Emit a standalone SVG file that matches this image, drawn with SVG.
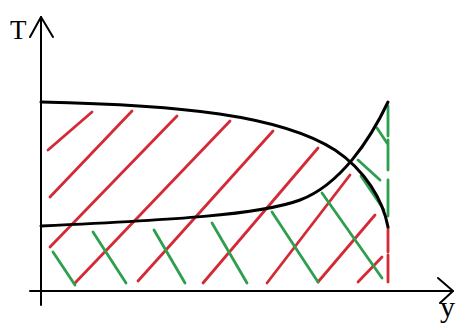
<svg xmlns="http://www.w3.org/2000/svg" width="463" height="325" viewBox="0 0 463 325">
<style>
.ax{stroke:#000;stroke-width:2;fill:none;stroke-linecap:round;stroke-linejoin:round}
.cv{stroke:#000;stroke-width:3;fill:none;stroke-linecap:round}
.r{stroke:#d42a35;stroke-width:2.8;fill:none;stroke-linecap:round}
.g{stroke:#2e9e4f;stroke-width:2.8;fill:none;stroke-linecap:round}
.lbl{font-family:"Liberation Serif","DejaVu Serif",serif;fill:#000}
</style>
<rect width="463" height="325" fill="#fff"/>
<g id="hatch-red">
<line class="r" x1="48" y1="150" x2="92" y2="112"/>
<line class="r" x1="50" y1="197" x2="132" y2="111"/>
<line class="r" x1="50" y1="247" x2="177" y2="116"/>
<line class="r" x1="75" y1="283" x2="230" y2="121"/>
<line class="r" x1="138" y1="281" x2="273" y2="131"/>
<line class="r" x1="203" y1="283" x2="318" y2="148"/>
<line class="r" x1="267" y1="283" x2="350" y2="175"/>
<line class="r" x1="318" y1="282" x2="375" y2="215"/>
<line class="r" x1="358" y1="282" x2="382" y2="257"/>
<line class="r" x1="388" y1="228" x2="388" y2="252"/>
<line class="r" x1="388" y1="255" x2="388" y2="282"/>
</g>
<g id="hatch-green">
<line class="g" x1="53" y1="252" x2="75" y2="285"/>
<line class="g" x1="93" y1="232" x2="126" y2="283"/>
<line class="g" x1="154" y1="230" x2="185" y2="283"/>
<line class="g" x1="212" y1="223" x2="247" y2="283"/>
<line class="g" x1="272" y1="212" x2="318" y2="282"/>
<line class="g" x1="322" y1="193" x2="382" y2="278"/>
<line class="g" x1="358" y1="160" x2="380" y2="180"/>
<line class="g" x1="361" y1="176" x2="384" y2="210"/>
<line class="g" x1="377" y1="128" x2="387" y2="143"/>
<line class="g" x1="388" y1="106" x2="388" y2="136"/>
<line class="g" x1="388" y1="140" x2="388" y2="170"/>
<line class="g" x1="388" y1="180" x2="388" y2="216"/>
</g>
<g id="curves">
<path class="cv" d="M41,102 C180,105 280,115 335,150 C365,170 383,200 388,227"/>
<path class="cv" d="M41,226 C170,220 260,215 300,200 C340,185 370,140 388,102"/>
</g>
<g id="axes">
<line class="ax" x1="41" y1="17" x2="41" y2="305"/>
<polyline class="ax" points="30,37 41,17 53,37"/>
<line class="ax" x1="30" y1="291" x2="453" y2="291"/>
<polyline class="ax" points="438,278 453,291 440,303"/>
<text class="lbl" x="10" y="39" font-size="27">T</text>
<text class="lbl" x="440" y="317" font-size="30">y</text>
</g>
</svg>
